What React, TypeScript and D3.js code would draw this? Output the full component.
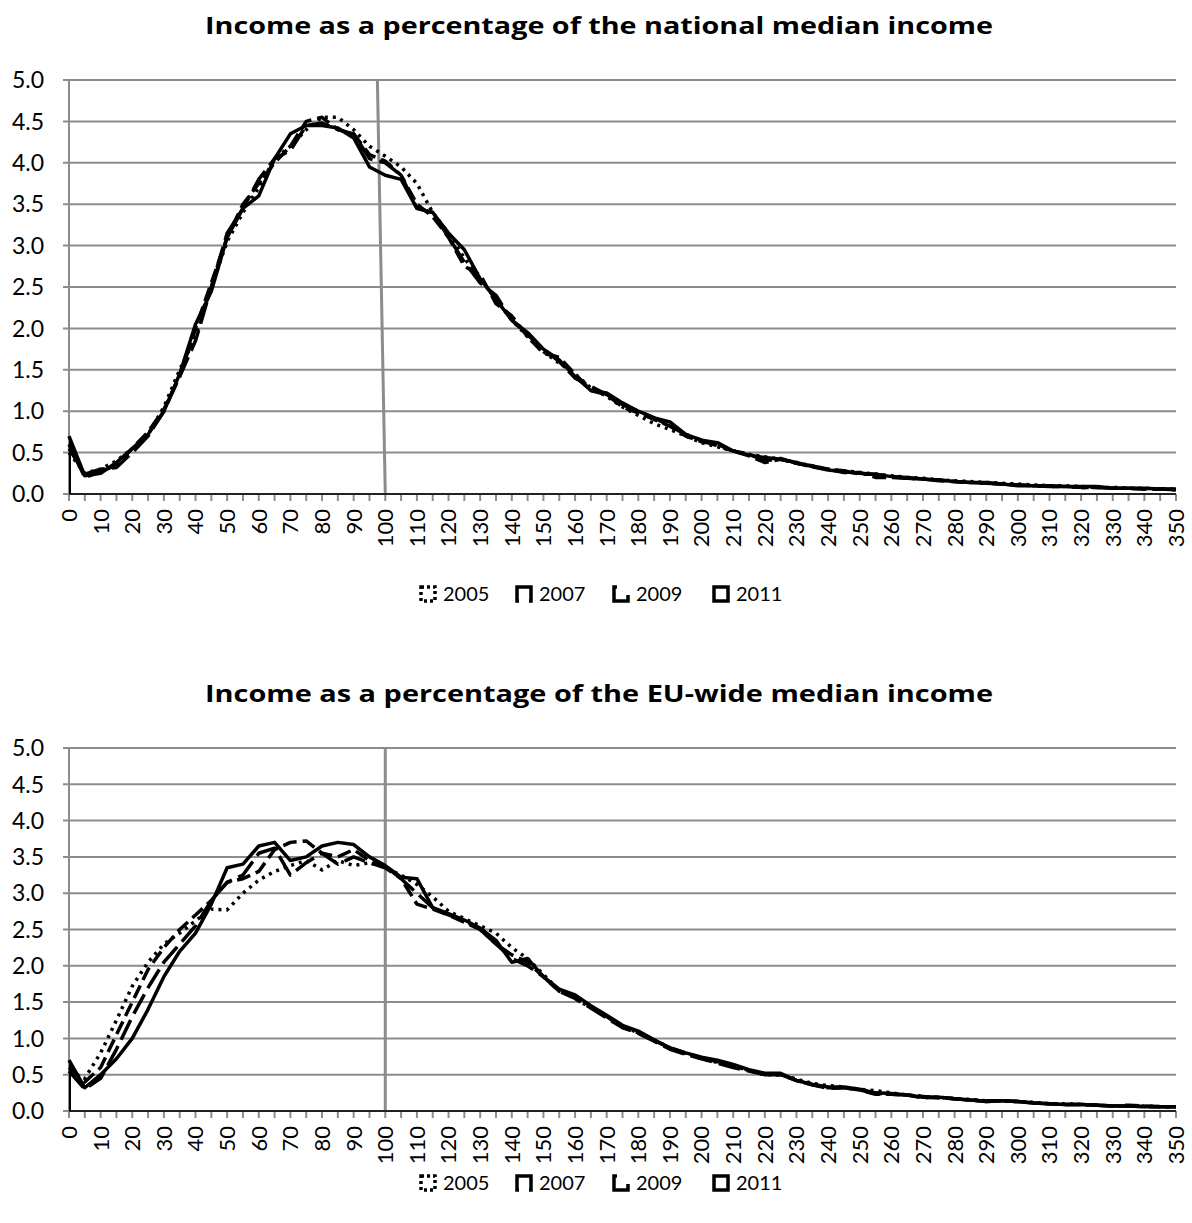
import React from "react";
import * as d3 from "d3";

const categories: number[] = d3.range(0, 351, 5);
const yTicks: number[] = [0, 0.5, 1, 1.5, 2, 2.5, 3, 3.5, 4, 4.5, 5];
const xLabels: number[] = d3.range(0, 351, 10);
const years: string[] = ["2005", "2007", "2009", "2011"];

const nat2005 = [
  0.5, 0.25, 0.3, 0.4, 0.55, 0.72, 1.05, 1.5, 1.9, 2.5,
  3.05, 3.4, 3.7, 4.05, 4.2, 4.4, 4.55, 4.55, 4.4, 4.2,
  4.08, 3.95, 3.75, 3.4, 3.15, 2.85, 2.6, 2.35, 2.1, 1.9,
  1.72, 1.58, 1.45, 1.28, 1.18, 1.05, 0.95, 0.85, 0.78, 0.7,
  0.62, 0.57, 0.52, 0.48, 0.45, 0.42, 0.38, 0.34, 0.3, 0.28,
  0.26, 0.24, 0.22, 0.2, 0.19, 0.17, 0.16, 0.15, 0.14, 0.13,
  0.12, 0.11, 0.1, 0.1, 0.09, 0.08, 0.08, 0.07, 0.07, 0.06,
  0.06,
];
const nat2007 = [
  0.6, 0.2, 0.27, 0.35, 0.55, 0.75, 1.02, 1.42, 2.0, 2.55,
  3.1, 3.5, 3.75, 4.0, 4.2, 4.5, 4.55, 4.4, 4.35, 4.1,
  4.02, 3.85, 3.5, 3.35, 3.1, 2.75, 2.65, 2.3, 2.15, 1.9,
  1.7, 1.65, 1.45, 1.25, 1.2, 1.05, 0.98, 0.9, 0.82, 0.7,
  0.63, 0.6, 0.52, 0.46, 0.38, 0.42, 0.37, 0.33, 0.3, 0.26,
  0.26, 0.2, 0.2, 0.19, 0.18, 0.17, 0.15, 0.14, 0.13, 0.12,
  0.11, 0.1, 0.09, 0.09, 0.08, 0.08, 0.07, 0.07, 0.06, 0.06,
  0.05,
];
const nat2009 = [
  0.55, 0.24, 0.3, 0.32, 0.5, 0.7, 1.0, 1.42, 1.85, 2.5,
  3.15, 3.45, 3.8, 4.05, 4.15, 4.45, 4.48, 4.4, 4.35, 4.05,
  4.0, 3.85, 3.45, 3.4, 3.1, 2.8, 2.55, 2.4, 2.1, 1.92,
  1.75, 1.6, 1.4, 1.3, 1.2, 1.08, 1.0, 0.92, 0.82, 0.72,
  0.65, 0.58, 0.52, 0.48, 0.4, 0.43, 0.37, 0.34, 0.3, 0.28,
  0.24, 0.24, 0.21, 0.19, 0.18, 0.16, 0.15, 0.14, 0.13, 0.12,
  0.11, 0.1, 0.09, 0.09, 0.08, 0.08, 0.07, 0.07, 0.06, 0.06,
  0.05,
];
const nat2011 = [
  0.7, 0.22, 0.25, 0.38, 0.55, 0.72, 1.0, 1.45, 2.05, 2.45,
  3.1, 3.45, 3.6, 4.05, 4.35, 4.45, 4.45, 4.42, 4.3, 3.95,
  3.85, 3.8, 3.45, 3.4, 3.15, 2.95, 2.6, 2.35, 2.1, 1.95,
  1.75, 1.62, 1.42, 1.25, 1.22, 1.1, 1.0, 0.92, 0.87, 0.72,
  0.65, 0.62, 0.52, 0.47, 0.44, 0.42, 0.38, 0.33, 0.29, 0.27,
  0.25, 0.24, 0.21, 0.2, 0.18, 0.17, 0.15, 0.14, 0.14, 0.12,
  0.1, 0.1, 0.1, 0.09, 0.09, 0.09, 0.07, 0.07, 0.07, 0.06,
  0.06,
];

const eu2005 = [
  0.55, 0.45, 0.8, 1.25, 1.72, 2.05, 2.3, 2.45, 2.62, 2.78,
  2.77, 3.0, 3.18, 3.3, 3.38, 3.45, 3.32, 3.45, 3.38, 3.42,
  3.35, 3.25, 3.12, 2.95, 2.75, 2.65, 2.55, 2.45, 2.25, 2.1,
  1.88, 1.66, 1.55, 1.42, 1.3, 1.16, 1.08, 0.98, 0.87, 0.79,
  0.72, 0.67, 0.62, 0.56, 0.5, 0.5, 0.44, 0.38, 0.35, 0.33,
  0.3, 0.28, 0.25, 0.22, 0.2, 0.19, 0.17, 0.16, 0.14, 0.14,
  0.13, 0.12, 0.1, 0.1, 0.09, 0.08, 0.07, 0.07, 0.07, 0.06,
  0.06,
];
const eu2007 = [
  0.6, 0.4, 0.6, 1.05, 1.5, 1.95, 2.25, 2.5, 2.7, 2.9,
  3.15, 3.2, 3.3, 3.6, 3.7, 3.72, 3.55, 3.5, 3.6, 3.45,
  3.37, 3.2, 2.85, 2.78, 2.7, 2.6, 2.5, 2.3, 2.15, 2.05,
  1.85, 1.65, 1.58, 1.44, 1.3, 1.15, 1.08, 0.97, 0.87, 0.8,
  0.73, 0.68, 0.62, 0.56, 0.5, 0.5, 0.42, 0.36, 0.32, 0.32,
  0.29, 0.23, 0.23, 0.22, 0.18, 0.19, 0.17, 0.15, 0.14, 0.14,
  0.13, 0.11, 0.1, 0.09, 0.09, 0.08, 0.07, 0.08, 0.07, 0.06,
  0.06,
];
const eu2009 = [
  0.55, 0.3, 0.45, 0.85, 1.3, 1.7, 2.05, 2.3, 2.55, 2.9,
  3.15, 3.25, 3.55, 3.62, 3.25, 3.42, 3.55, 3.4, 3.5, 3.42,
  3.35, 3.2, 3.0, 2.8, 2.7, 2.62, 2.5, 2.3, 2.1, 2.0,
  1.85, 1.65, 1.55, 1.42, 1.28, 1.15, 1.07, 0.96, 0.85, 0.78,
  0.72, 0.66, 0.6, 0.55, 0.5, 0.5, 0.42, 0.36, 0.31, 0.32,
  0.29, 0.24, 0.23, 0.22, 0.2, 0.18, 0.17, 0.15, 0.13, 0.14,
  0.13, 0.11, 0.1, 0.09, 0.09, 0.08, 0.07, 0.07, 0.06, 0.06,
  0.06,
];
const eu2011 = [
  0.7, 0.32, 0.5, 0.72, 1.0, 1.4, 1.85, 2.2, 2.45, 2.85,
  3.35, 3.4, 3.65, 3.7, 3.45, 3.5, 3.65, 3.7, 3.67, 3.5,
  3.38, 3.22, 3.2, 2.8, 2.72, 2.63, 2.52, 2.35, 2.05, 2.1,
  1.85, 1.68, 1.6, 1.45, 1.32, 1.18, 1.1, 0.98, 0.87, 0.8,
  0.74, 0.7, 0.64, 0.57, 0.52, 0.52, 0.42, 0.37, 0.33, 0.33,
  0.3, 0.25, 0.24, 0.22, 0.19, 0.19, 0.17, 0.15, 0.13, 0.14,
  0.13, 0.11, 0.1, 0.09, 0.09, 0.08, 0.07, 0.07, 0.06, 0.06,
  0.06,
];

// reference line at the median (category at top, category at bottom)
const natRefLine = [97.5, 100];
const euRefLine = [100, 100];

const dashes: Record<string, string> = {
  "2005": "3 5",
  "2007": "14 6",
  "2009": "22 7",
  "2011": "none",
};
const legendDashes: Record<string, string> = {
  "2005": "3 3",
  "2007": "30 10 16",
  "2009": "3 19 34",
  "2011": "none",
};

const FONT = "Lato, 'Open Sans', sans-serif";
const TITLE_FONT = "'Open Sans', Lato, sans-serif";

type PanelProps = {
  title: string;
  top: number;
  bottom: number;
  titleY: number;
  legendY: number;
  series: number[][];
  refLine: number[];
};

function Panel({ title, top, bottom, titleY, legendY, series, refLine }: PanelProps) {
  const left = 69;
  const right = 1176;
  const x = d3.scaleLinear().domain([0, 350]).range([left, right]);
  const y = d3.scaleLinear().domain([0, 5]).range([bottom, top]);
  const line = d3
    .line<number>()
    .x((_, i) => x(categories[i]))
    .y((d) => y(d));
  const legendX = [419, 515, 612, 712];
  return (
    <g>
      <text
        x={599}
        y={titleY}
        textAnchor="middle"
        fontFamily={TITLE_FONT}
        fontWeight="bold"
        fontSize={24}
        textLength={788}
        lengthAdjust="spacingAndGlyphs"
        fill="#000"
      >
        {title}
      </text>
      {yTicks.map((t) => (
        <g key={t}>
          <line x1={left - 6} x2={right} y1={y(t)} y2={y(t)} stroke="#8c8c8c" strokeWidth={2} />
          <text
            x={44}
            y={y(t)}
            dy="0.36em"
            textAnchor="end"
            fontFamily={FONT}
            fontSize={23}
            fill="#000"
          >
            {t.toFixed(1)}
          </text>
        </g>
      ))}
      <line x1={left} x2={left} y1={top} y2={bottom} stroke="#8c8c8c" strokeWidth={2} />
      {categories.map((c) => (
        <line key={c} x1={x(c)} x2={x(c)} y1={bottom} y2={bottom + 7} stroke="#8c8c8c" strokeWidth={2} />
      ))}
      {xLabels.map((c) => (
        <text
          key={c}
          transform={`translate(${x(c)},${bottom + 15}) rotate(-90)`}
          dy="0.36em"
          textAnchor="end"
          fontFamily={FONT}
          fontSize={22}
          fill="#000"
        >
          {c}
        </text>
      ))}
      <line
        x1={x(refLine[0])}
        x2={x(refLine[1])}
        y1={y(5)}
        y2={y(0)}
        stroke="#8c8c8c"
        strokeWidth={3}
      />
      <line x1={left} x2={right} y1={y(0)} y2={y(0)} stroke="#222" strokeWidth={2} />
      <line x1={left + 1} x2={left + 1} y1={y(0)} y2={y(series[3][0])} stroke="#000" strokeWidth={2} />
      {series.map((s, i) => (
        <path
          key={years[i]}
          d={line(s) || ""}
          fill="none"
          stroke="#000"
          strokeWidth={3.5}
          strokeDasharray={dashes[years[i]]}
          strokeLinejoin="round"
        />
      ))}
      {years.map((yr, i) => (
        <g key={yr} transform={`translate(${legendX[i]},${legendY})`}>
          <rect
            x={2}
            y={-7}
            width={14}
            height={14}
            fill="none"
            stroke="#000"
            strokeWidth={3.5}
            strokeDasharray={legendDashes[yr]}
          />
          <text x={24} y={0} dy="0.36em" fontFamily={FONT} fontSize={20} fill="#000">
            {yr}
          </text>
        </g>
      ))}
    </g>
  );
}

export default function App() {
  return (
    <svg
      width={1192}
      height={1223}
      style={{ position: "absolute", left: 0, top: 0, background: "#fff" }}
    >
      <rect width={1192} height={1223} fill="#fff" />
      <Panel
        title="Income as a percentage of the national median income"
        top={80}
        bottom={494}
        titleY={34}
        legendY={594}
        series={[nat2005, nat2007, nat2009, nat2011]}
        refLine={natRefLine}
      />
      <Panel
        title="Income as a percentage of the EU-wide median income"
        top={748}
        bottom={1111}
        titleY={702}
        legendY={1183}
        series={[eu2005, eu2007, eu2009, eu2011]}
        refLine={euRefLine}
      />
    </svg>
  );
}
